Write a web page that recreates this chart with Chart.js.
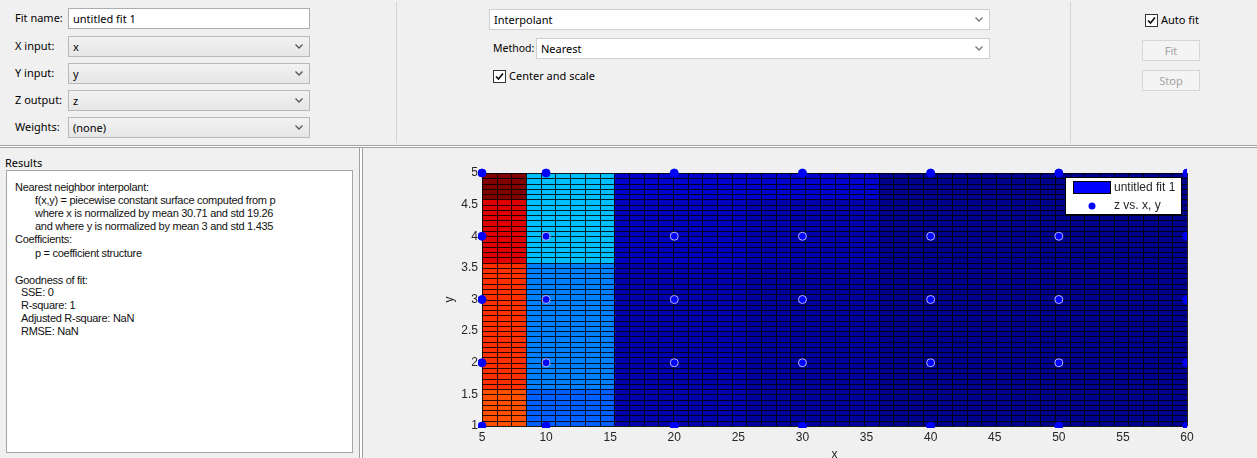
<!DOCTYPE html>
<html>
<head>
<meta charset="utf-8">
<title>Curve Fitting - untitled fit 1</title>
<script src="https://cdn.jsdelivr.net/npm/chart.js@4.4.1/dist/chart.umd.min.js"></script>
<style>
html,body{margin:0;padding:0}
body{width:1257px;height:458px;overflow:hidden;background:#f0f0f0;position:relative;font-family:"Noto Sans",sans-serif;font-size:11px;color:#000}
.a{position:absolute;white-space:pre}
.lbl{height:20px;line-height:20px}
.field{position:absolute;box-sizing:border-box;height:21px;border:1px solid #abadb3;background:#fff;line-height:19px;padding-left:4px;white-space:pre}
.combo{position:absolute;box-sizing:border-box;height:21px;border:1px solid #b9b9b9;background:linear-gradient(#f2f2f2,#e6e6e6);line-height:19px;padding-left:4px;white-space:pre}
.combo.white{background:#fff;border-color:#cfcfcf}
.chev{position:absolute;right:6px;top:7px;width:8px;height:5px}
.cb{position:absolute;box-sizing:border-box;width:13px;height:13px;border:1px solid #333;background:#fff}
.cb svg{position:absolute;left:0;top:0;width:11px;height:11px}
.btn{position:absolute;box-sizing:border-box;width:58px;height:21px;border:1px solid #d6d6d6;background:#f4f4f4;color:#a3a3a3;text-align:center;line-height:19px}
.vsep{position:absolute;width:1px;background:#d4d4d4}
.hsep{position:absolute;left:0;width:1257px;height:3px;box-sizing:border-box;border-top:1px solid #a0a0a0;border-bottom:1px solid #a0a0a0;background:#fff}
.results{position:absolute;left:6px;top:170px;width:347px;height:283px;box-sizing:border-box;border:1px solid #a5a5a5;background:#fff}
.rt{position:absolute;font-family:"Liberation Sans",Arial,sans-serif;font-size:11px;letter-spacing:-0.28px;white-space:pre;line-height:13px;color:#111}
#plotCanvas{position:absolute;left:362px;top:148px}
</style>
</head>
<body>

<!-- data selection -->
<div class="a lbl" style="left:15px;top:8px">Fit name:</div>
<div class="field" style="left:68px;top:8px;width:242px">untitled fit 1</div>

<div class="a lbl" style="left:15px;top:36px">X input:</div>
<div class="combo" style="left:68px;top:36px;width:242px">x<svg class="chev" viewBox="0 0 8 5"><polyline points="0.5,0.5 4,4 7.5,0.5" fill="none" stroke="#555" stroke-width="1.3"/></svg></div>

<div class="a lbl" style="left:15px;top:63px">Y input:</div>
<div class="combo" style="left:68px;top:63px;width:242px">y<svg class="chev" viewBox="0 0 8 5"><polyline points="0.5,0.5 4,4 7.5,0.5" fill="none" stroke="#555" stroke-width="1.3"/></svg></div>

<div class="a lbl" style="left:15px;top:90px">Z output:</div>
<div class="combo" style="left:68px;top:90px;width:242px">z<svg class="chev" viewBox="0 0 8 5"><polyline points="0.5,0.5 4,4 7.5,0.5" fill="none" stroke="#555" stroke-width="1.3"/></svg></div>

<div class="a lbl" style="left:15px;top:117px">Weights:</div>
<div class="combo" style="left:68px;top:117px;width:242px">(none)<svg class="chev" viewBox="0 0 8 5"><polyline points="0.5,0.5 4,4 7.5,0.5" fill="none" stroke="#555" stroke-width="1.3"/></svg></div>

<div class="vsep" style="left:396px;top:2px;height:141px"></div>

<!-- fit type -->
<div class="combo white" style="left:489px;top:9px;width:501px">Interpolant<svg class="chev" viewBox="0 0 8 5"><polyline points="0.5,0.5 4,4 7.5,0.5" fill="none" stroke="#777" stroke-width="1.3"/></svg></div>
<div class="a lbl" style="left:493px;top:38px;font-size:10.5px">Method:</div>
<div class="combo white" style="left:536px;top:38px;width:454px">Nearest<svg class="chev" viewBox="0 0 8 5"><polyline points="0.5,0.5 4,4 7.5,0.5" fill="none" stroke="#777" stroke-width="1.3"/></svg></div>
<div class="cb" style="left:493px;top:70px"><svg viewBox="0 0 11 11"><polyline points="2,5.5 4.5,8 9,2.5" fill="none" stroke="#111" stroke-width="1.7"/></svg></div>
<div class="a lbl" style="left:509px;top:66px">Center and scale</div>

<div class="vsep" style="left:1070px;top:2px;height:141px"></div>

<!-- fit controls -->
<div class="cb" style="left:1145px;top:14px"><svg viewBox="0 0 11 11"><polyline points="2,5.5 4.5,8 9,2.5" fill="none" stroke="#111" stroke-width="1.7"/></svg></div>
<div class="a lbl" style="left:1161px;top:10px">Auto fit</div>
<div class="btn" style="left:1142px;top:40px">Fit</div>
<div class="btn" style="left:1142px;top:70px">Stop</div>

<div class="hsep" style="top:145px"></div>

<!-- results -->
<div class="a lbl" style="left:5px;top:153px">Results</div>
<div class="results"></div>
<div class="rt" style="left:15px;top:181px">Nearest neighbor interpolant:</div>
<div class="rt" style="left:35px;top:194px">f(x,y) = piecewise constant surface computed from p</div>
<div class="rt" style="left:35px;top:207px">where x is normalized by mean 30.71 and std 19.26</div>
<div class="rt" style="left:35px;top:220px">and where y is normalized by mean 3 and std 1.435</div>
<div class="rt" style="left:15px;top:233px">Coefficients:</div>
<div class="rt" style="left:35px;top:247px">p = coefficient structure</div>
<div class="rt" style="left:15px;top:274px">Goodness of fit:</div>
<div class="rt" style="left:21px;top:286px">SSE: 0</div>
<div class="rt" style="left:21px;top:299px">R-square: 1</div>
<div class="rt" style="left:21px;top:312px">Adjusted R-square: NaN</div>
<div class="rt" style="left:21px;top:325px">RMSE: NaN</div>

<div style="position:absolute;left:359px;top:148px;width:4px;height:310px;box-sizing:border-box;border-left:1px solid #a0a0a0;border-right:1px solid #a0a0a0;background:#fff"></div>

<canvas id="plotCanvas" width="895" height="314"></canvas>

<script>
// Sample locations
const xValues = [5, 10, 20, 30, 40, 50, 60];
const yValues = [1, 2, 3, 4, 5];

// Measured z at each x, one array per y level
const zAtY1 = [50.4, 13.5, 2.5, 1.4, 0.6, 0.2, 0.0];
const zAtY2 = [52.6, 15.6, 2.7, 1.6, 0.5, 0.3, 0.1];
const zAtY3 = [52.3, 15.2, 2.9, 1.8, 0.4, 0.1, 0.2];
const zAtY4 = [57.5, 19.4, 3.6, 2.5, 0.3, 0.4, 0.3];
const zAtY5 = [64.0, 19.8, 4.7, 4.3, 0.7, 0.5, 0.4];
const zRows = [zAtY1, zAtY2, zAtY3, zAtY4, zAtY5];

// Axis ticks
const xTicks = [5, 10, 15, 20, 25, 30, 35, 40, 45, 50, 55, 60];
const yTicks = [1, 1.5, 2, 2.5, 3, 3.5, 4, 4.5, 5];

const fitLabel = 'untitled fit 1';
const dataLabel = 'z vs. x, y';

// Evaluation mesh for the fitted surface
const meshPoints = 49;

// Flattened samples
const samples = [];
yValues.forEach((yv, j) => xValues.forEach((xv, i) => samples.push({x: xv, y: yv, z: zRows[j][i]})));

function meanStd(vals) {
  const m = vals.reduce((s, v) => s + v, 0) / vals.length;
  const v = vals.reduce((s, q) => s + (q - m) * (q - m), 0) / (vals.length - 1);
  return [m, Math.sqrt(v)];
}
const [xMean, xStd] = meanStd(samples.map(p => p.x));
const [yMean, yStd] = meanStd(samples.map(p => p.y));
const zAll = samples.map(p => p.z);
const zMin = Math.min(...zAll), zMax = Math.max(...zAll);

// Nearest neighbour in centred and scaled coordinates
function nearestZ(xv, yv) {
  const xn = (xv - xMean) / xStd, yn = (yv - yMean) / yStd;
  let best = Infinity, z = 0;
  for (const p of samples) {
    const dx = (p.x - xMean) / xStd - xn, dy = (p.y - yMean) / yStd - yn;
    const d = dx * dx + dy * dy;
    if (d < best) { best = d; z = p.z; }
  }
  return z;
}

// 64-entry jet colormap
function jetColor(k) { // k: 1..64
  const n = 16;
  const u = [];
  for (let i = 1; i <= n; i++) u.push(i / n);
  for (let i = 1; i < n; i++) u.push(1);
  for (let i = n; i >= 1; i--) u.push(i / n);
  const at = idx => (idx >= 1 && idx <= u.length) ? u[idx - 1] : 0;
  const g = at(k - 8), r = at(k - 24), b = at(k + 8);
  return `rgb(${Math.round(r * 255)},${Math.round(g * 255)},${Math.round(b * 255)})`;
}
function colorFor(z) {
  let k = Math.floor((z - zMin) / (zMax - zMin) * 64) + 1;
  k = Math.max(1, Math.min(64, k));
  return jetColor(k);
}

const surfacePlugin = {
  id: 'nearestSurface',
  beforeDatasetsDraw(chart) {
    const {ctx, scales: {x, y}} = chart;
    const gx = [], gy = [];
    for (let i = 0; i < meshPoints; i++) {
      gx.push(x.min + (x.max - x.min) * i / (meshPoints - 1));
      gy.push(y.min + (y.max - y.min) * i / (meshPoints - 1));
    }
    const px = gx.map(v => Math.round(x.getPixelForValue(v)));
    const py = gy.map(v => Math.round(y.getPixelForValue(v)));
    ctx.save();
    for (let i = 0; i < meshPoints - 1; i++) {
      for (let j = 0; j < meshPoints - 1; j++) {
        ctx.fillStyle = colorFor(nearestZ(gx[i], gy[j]));
        ctx.fillRect(px[i], py[j + 1], px[i + 1] - px[i], py[j] - py[j + 1]);
      }
    }
    ctx.strokeStyle = 'rgba(0,0,0,0.85)';
    ctx.lineWidth = 1;
    ctx.beginPath();
    for (let i = 0; i < meshPoints; i++) {
      ctx.moveTo(px[i] + 0.5, py[meshPoints - 1]);
      ctx.lineTo(px[i] + 0.5, py[0]);
    }
    for (let j = 0; j < meshPoints; j++) {
      ctx.moveTo(px[0], py[j] + 0.5);
      ctx.lineTo(px[meshPoints - 1], py[j] + 0.5);
    }
    ctx.stroke();
    ctx.restore();
  }
};

const legendPlugin = {
  id: 'boxLegend',
  afterDraw(chart) {
    const {ctx, chartArea: a} = chart;
    const w = 117, h = 38;
    const left = a.right - 5 - w, top = a.top + 4;
    ctx.save();
    ctx.fillStyle = '#ffffff';
    ctx.fillRect(left, top, w, h);
    ctx.strokeStyle = '#000000';
    ctx.lineWidth = 1;
    ctx.strokeRect(left + 0.5, top + 0.5, w - 1, h - 1);
    // surface entry
    ctx.fillStyle = '#0000ff';
    ctx.fillRect(left + 8, top + 4, 38, 13);
    ctx.strokeRect(left + 8.5, top + 4.5, 37, 12);
    ctx.font = '12px "Liberation Sans", Arial, sans-serif';
    ctx.fillStyle = '#262626';
    ctx.textBaseline = 'middle';
    ctx.textAlign = 'left';
    ctx.fillText(fitLabel, left + 49, top + 11);
    // data entry
    ctx.beginPath();
    ctx.arc(left + 27, top + 29, 3.5, 0, Math.PI * 2);
    ctx.fillStyle = '#0000ff';
    ctx.fill();
    ctx.fillStyle = '#262626';
    ctx.fillText(dataLabel, left + 49, top + 29);
    ctx.restore();
  }
};

const tickFont = {family: '"Liberation Sans", Arial, sans-serif', size: 12};

new Chart(document.getElementById('plotCanvas'), {
  type: 'scatter',
  data: {
    datasets: [{
      label: dataLabel,
      data: samples.map(p => ({x: p.x, y: p.y})),
      pointRadius: 4,
      pointHoverRadius: 4,
      backgroundColor: '#0000ff',
      borderColor: ctx => {
        const r = ctx.raw;
        return (r && r.y > 1 && r.y < 5 && r.x > 5 && r.x < 60) ? '#b8b8f4' : '#0000ff';
      },
      borderWidth: 1,
      clip: {left: 4, top: 5, right: 0, bottom: 2}
    }]
  },
  options: {
    responsive: false,
    animation: false,
    events: [],
    layout: {padding: {left: 80, right: 70, top: 25, bottom: 0}},
    plugins: {legend: {display: false}, tooltip: {enabled: false}},
    scales: {
      x: {
        type: 'linear',
        min: 5, max: 60,
        afterBuildTicks: s => { s.ticks = xTicks.map(v => ({value: v})); },
        afterFit: s => { s.height = 36; },
        ticks: {font: tickFont, color: '#262626', padding: 4, maxRotation: 0, autoSkip: false, callback: v => String(v)},
        grid: {display: false, drawTicks: false},
        border: {display: true, color: '#a8a8a8'},
        title: {display: true, text: 'x', font: tickFont, color: '#262626', padding: {top: 0, bottom: 0}}
      },
      y: {
        type: 'linear',
        min: 1, max: 5,
        afterBuildTicks: s => { s.ticks = yTicks.map(v => ({value: v})); },
        afterFit: s => { s.width = 40; },
        ticks: {font: tickFont, color: '#262626', padding: 4, autoSkip: false, callback: v => String(v)},
        grid: {display: false, drawTicks: false},
        border: {display: true, color: '#a8a8a8'},
        title: {display: true, text: 'y', font: tickFont, color: '#262626', padding: {top: 0, bottom: 0}}
      }
    }
  },
  plugins: [surfacePlugin, legendPlugin]
});
</script>
</body>
</html>
